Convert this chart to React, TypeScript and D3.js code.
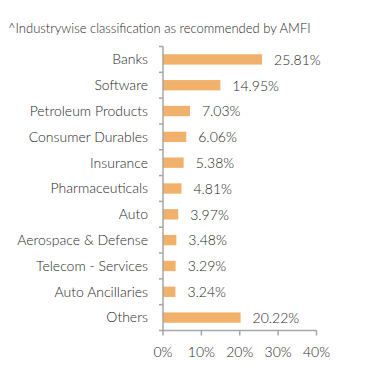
import React from "react";
import * as d3 from "d3";

const title = "^Industrywise classification as recommended by AMFI";
const categories = [
  "Banks",
  "Software",
  "Petroleum Products",
  "Consumer Durables",
  "Insurance",
  "Pharmaceuticals",
  "Auto",
  "Aerospace & Defense",
  "Telecom - Services",
  "Auto Ancillaries",
  "Others",
];
const values = [25.81, 14.95, 7.03, 6.06, 5.38, 4.81, 3.97, 3.48, 3.29, 3.24, 20.22];
const xTicks = [0, 10, 20, 30, 40];

const W = 391;
const H = 383;
const left = 163;
const right = 316.5;
const top = 46.5;
const bottom = 330.5;
const barColor = "#F1B16B";
const axisColor = "#A6A6A6";
const textColor = "#1f1f1f";
const font = "Lato, 'Open Sans', sans-serif";

export default function App() {
  const x = d3.scaleLinear().domain([0, 40]).range([left, right]);
  const y = d3
    .scaleBand<string>()
    .domain(categories)
    .range([top, bottom])
    .paddingInner(0.6)
    .paddingOuter(0.3);
  const boundaries = d3.range(categories.length + 1).map((i) => top + i * ((bottom - top) / categories.length));

  return (
    <svg
      width={W}
      height={H}
      style={{ position: "absolute", left: 0, top: 0, background: "#fff" }}
      fontFamily={font}
      fontWeight={300}
    >
      <text x={8} y={33} fontSize={13} fill={textColor}>
        {title}
      </text>
      {categories.map((c, i) => {
        const yy = y(c)!;
        const bw = y.bandwidth();
        return (
          <g key={c}>
            <rect x={x(0)} y={yy} width={x(values[i]) - x(0)} height={bw} fill={barColor} />
            <text
              x={148}
              y={yy + bw / 2}
              dy="0.35em"
              textAnchor="end"
              fontSize={14}
              fill={textColor}
            >
              {c}
            </text>
            <text
              x={x(values[i]) + 12}
              y={yy + bw / 2}
              dy="0.38em"
              fontSize={14}
              fill={textColor}
            >
              {values[i].toFixed(2)}%
            </text>
          </g>
        );
      })}
      {/* y axis */}
      <line x1={left} x2={left} y1={top} y2={bottom} stroke={axisColor} strokeWidth={1.5} />
      {boundaries.map((b, i) => (
        <line key={i} x1={left - 4} x2={left} y1={b} y2={b} stroke={axisColor} strokeWidth={1.5} />
      ))}
      {/* x axis */}
      <line x1={left} x2={right} y1={bottom} y2={bottom} stroke={axisColor} strokeWidth={1.5} />
      {xTicks.map((t) => (
        <g key={t}>
          <line x1={x(t)} x2={x(t)} y1={bottom} y2={bottom + 5} stroke={axisColor} strokeWidth={1.5} />
          <text x={x(t)} y={357} textAnchor="middle" fontSize={14} fill={textColor}>
            {t}%
          </text>
        </g>
      ))}
    </svg>
  );
}
